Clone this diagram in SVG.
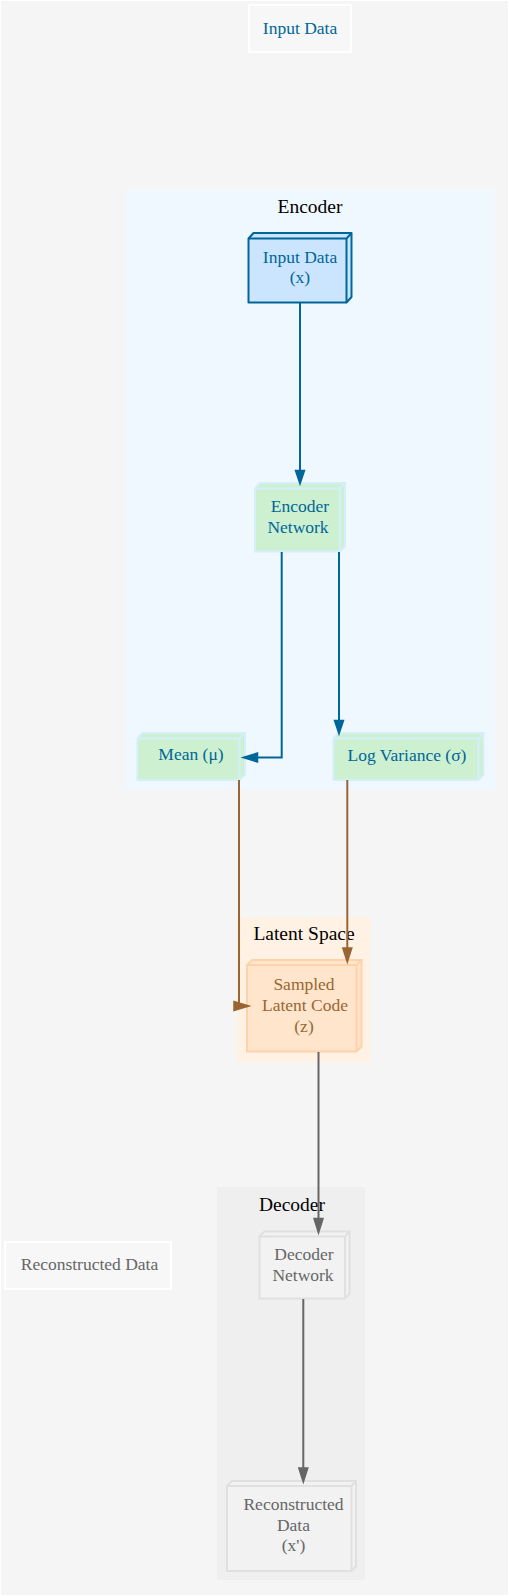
<svg xmlns="http://www.w3.org/2000/svg" width="509" height="1596" viewBox="0 0 509 1596">
<style>
text{font-family:"Liberation Serif","Times New Roman",serif;text-anchor:middle}
.n{font-size:17.5px}
.t{font-size:19.5px;fill:#000}
.blue{fill:#006699}
.brown{fill:#996633}
.gray{fill:#666666}
.e{fill:none;stroke-width:2}
</style>
<rect x="0" y="0" width="509" height="1596" fill="#ffffff"/>
<rect x="1" y="1" width="507" height="1594" fill="#f5f5f5"/>

<g id="cluster_encoder">
<rect x="126" y="189" width="369" height="601" fill="#f0f8ff"/>
<text class="t" x="310" y="213">Encoder</text>
</g>
<g id="cluster_latent">
<rect x="237" y="917" width="133" height="145" fill="#fff2e5"/>
<text class="t" x="304" y="940">Latent Space</text>
</g>
<g id="cluster_decoder">
<rect x="217" y="1187" width="148" height="393" fill="#efefef"/>
<text class="t" x="292" y="1210.5">Decoder</text>
</g>

<g id="input_top">
<rect x="249" y="5" width="102" height="47" fill="#f7f7f7" stroke="#ffffff" stroke-width="2"/>
<text class="n blue" x="300" y="34">Input Data</text>
</g>

<g id="input_x">
<path d="M248.5,238.5 L253.5,233 H351.5 V297 L346.5,302.5 H248.5 Z" fill="#cce5ff" stroke="#006699" stroke-width="2" stroke-linejoin="round"/>
<path d="M248.5,238.5 H346.5 V302.5 M346.5,238.5 L351.5,233" fill="none" stroke="#006699" stroke-width="2"/>
<text class="n blue" x="300" y="262.5">Input Data</text>
<text class="n blue" x="300" y="283">(x)</text>
</g>

<g id="encoder_network">
<path d="M255,488.5 L260,483 H345 V546 L340,551.5 H255 Z" fill="#cdf0d0" stroke="#d4eefa" stroke-width="2"/>
<path d="M255,488.5 H340 V551.5 M340,488.5 L345,483" fill="none" stroke="#d4eefa" stroke-width="2"/>
<text class="n blue" x="300" y="512">Encoder</text>
<text class="n blue" x="298" y="533">Network</text>
</g>

<g id="mean">
<path d="M137.5,738.5 L142.5,733 H245 V774.5 L239.5,780 H137.5 Z" fill="#cdf0d0" stroke="#d4eefa" stroke-width="2"/>
<path d="M137.5,738.5 H239.5 V780 M239.5,738.5 L245,733" fill="none" stroke="#d4eefa" stroke-width="2"/>
<text class="n blue" x="191" y="760">Mean (μ)</text>
</g>

<g id="log_variance">
<path d="M333.5,738.5 L338.5,733 H483.5 V774.5 L478.5,780 H333.5 Z" fill="#cdf0d0" stroke="#d4eefa" stroke-width="2"/>
<path d="M333.5,738.5 H478.5 V780 M478.5,738.5 L483.5,733" fill="none" stroke="#d4eefa" stroke-width="2"/>
<text class="n blue" x="407" y="760.5">Log Variance (σ)</text>
</g>

<g id="sampled_latent">
<path d="M247,965 L252,960 H361.5 V1046.5 L356.5,1051.5 H247 Z" fill="#ffe5cc" stroke="#ffd2aa" stroke-width="2"/>
<path d="M247,965 H356.5 V1051.5 M356.5,965 L361.5,960" fill="none" stroke="#ffd2aa" stroke-width="2"/>
<text class="n brown" x="304" y="990">Sampled</text>
<text class="n brown" x="305" y="1011">Latent Code</text>
<text class="n brown" x="304" y="1031.5">(z)</text>
</g>

<g id="decoder_network">
<path d="M259.5,1236.5 L264.5,1231.5 H349.5 V1293.5 L345,1298.5 H259.5 Z" fill="#f2f2f2" stroke="#e0e0e0" stroke-width="2"/>
<path d="M259.5,1236.5 H345 V1298.5 M345,1236.5 L349.5,1231.5" fill="none" stroke="#e0e0e0" stroke-width="2"/>
<text class="n gray" x="304" y="1260">Decoder</text>
<text class="n gray" x="303" y="1280.5">Network</text>
</g>

<g id="reconstructed_label">
<rect x="5" y="1242" width="166" height="47" fill="#f7f7f7" stroke="#ffffff" stroke-width="2"/>
<text class="n gray" x="89.5" y="1270">Reconstructed Data</text>
</g>

<g id="reconstructed_x">
<path d="M227,1486 L232,1481 H356 V1566 L351.5,1571 H227 Z" fill="#f2f2f2" stroke="#e0e0e0" stroke-width="2"/>
<path d="M227,1486 H351.5 V1571 M351.5,1486 L356,1481" fill="none" stroke="#e0e0e0" stroke-width="2"/>
<text class="n gray" x="293.5" y="1509.5">Reconstructed</text>
<text class="n gray" x="293.5" y="1530.5">Data</text>
<text class="n gray" x="293.5" y="1551">(x')</text>
</g>

<g id="connectors">
<path class="e" stroke="#006699" d="M300,303 V471"/>
<polygon fill="#006699" stroke="#006699" stroke-width="1.5" points="295.5,470.5 304.5,470.5 300,484"/>
<path class="e" stroke="#006699" d="M281.7,552 V757.5 H256"/>
<polygon fill="#006699" stroke="#006699" stroke-width="1.5" points="257.5,753 257.5,762 243,757.5"/>
<path class="e" stroke="#006699" d="M339,552 V722"/>
<polygon fill="#006699" stroke="#006699" stroke-width="1.5" points="334.5,720.5 343.5,720.5 339,734"/>
<path class="e" stroke="#996633" d="M239,780 V1006"/>
<polygon fill="#996633" stroke="#996633" stroke-width="1.5" points="234,1001.5 234,1010.5 249,1006"/>
<path class="e" stroke="#996633" d="M347.3,780 V950"/>
<polygon fill="#996633" stroke="#996633" stroke-width="1.5" points="342.8,948 351.8,948 347.3,962"/>
<path class="e" stroke="#666666" d="M318.5,1052 V1220"/>
<polygon fill="#666666" stroke="#666666" stroke-width="1.5" points="314,1218.5 323,1218.5 318.5,1233"/>
<path class="e" stroke="#666666" d="M303.3,1299 V1470"/>
<polygon fill="#666666" stroke="#666666" stroke-width="1.5" points="298.8,1468 307.8,1468 303.3,1482"/>
</g>
</svg>
